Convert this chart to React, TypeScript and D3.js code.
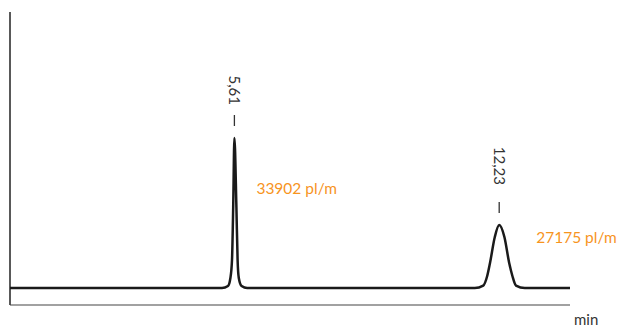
import React from "react";
import * as d3 from "d3";

// Chromatogram trace (time in min, signal in arbitrary units)
const times: number[] = [
  0, 5.3, 5.45, 5.51, 5.55, 5.58, 5.61, 5.66, 5.69, 5.72, 5.79, 5.93,
  11.62, 11.83, 11.93, 12.0, 12.12, 12.23, 12.36, 12.48, 12.56, 12.65, 12.87, 14,
];
const signal: number[] = [
  0, 0, 1, 5, 14, 40.5, 75, 40.5, 14, 5, 1, 0,
  0, 1.2, 6, 12.5, 25.5, 31.5, 25.5, 12.5, 6, 1.2, 0, 0,
];

const peakTimes: number[] = [5.61, 12.23];
const peakHeights: number[] = [75, 31.5];
const peakLabels: string[] = ["5,61", "12,23"];
const plateLabels: string[] = ["33902 pl/m", "27175 pl/m"];
const xUnit = "min";

const W = 620;
const H = 327;

export default function App() {
  const x = d3.scaleLinear().domain([0, 14]).range([10, 570]);
  const y = d3.scaleLinear().domain([-8.5, 138]).range([305, 12]);

  const pts = times.map((t, i) => [t, signal[i]] as [number, number]);
  const line = d3
    .line<[number, number]>()
    .x((d) => x(d[0]))
    .y((d) => y(d[1]))
    .curve(d3.curveMonotoneX);

  const font = "Lato, 'Open Sans', sans-serif";
  const orange = "#F7941E";
  // label layout offsets relative to peak apex
  const textEndOffsets = [33, 40];
  const plateOffsets: [number, number][] = [
    [22, 55.5],
    [37, 17.5],
  ];

  return (
    <svg
      width={W}
      height={H}
      style={{ position: "absolute", left: 0, top: 0, background: "#fff" }}
      fontFamily={font}
    >
      {/* axes */}
      <line x1={x(0)} x2={x(0)} y1={y(138)} y2={y(-8.5)} stroke="#222" strokeWidth={1.5} />
      <line x1={x(0)} x2={x(14)} y1={y(-8.5)} y2={y(-8.5)} stroke="#444" strokeWidth={1.2} />
      <text x={574} y={325} fontSize={15} fill="#333">
        {xUnit}
      </text>

      {/* trace */}
      <path
        d={line(pts) || ""}
        fill="none"
        stroke="#1a1a1a"
        strokeWidth={2.5}
        strokeLinejoin="round"
        strokeLinecap="butt"
      />

      {/* retention-time labels with tick marks */}
      {peakTimes.map((t, i) => {
        const px = x(t);
        const top = y(peakHeights[i]);
        return (
          <g key={"rt" + i}>
            <line x1={px} x2={px} y1={top - 23} y2={top - 12} stroke="#333" strokeWidth={1.3} />
            <text
              transform={`translate(${px},${top - textEndOffsets[i]}) rotate(90)`}
              textAnchor="end"
              dy="0.33em"
              fontSize={15}
              fill="#333"
            >
              {peakLabels[i]}
            </text>
          </g>
        );
      })}

      {/* plate count labels */}
      {peakTimes.map((t, i) => (
        <text
          key={"pl" + i}
          x={x(t) + plateOffsets[i][0]}
          y={y(peakHeights[i]) + plateOffsets[i][1]}
          fontSize={15.5}
          fill={orange}
        >
          {plateLabels[i]}
        </text>
      ))}
    </svg>
  );
}
